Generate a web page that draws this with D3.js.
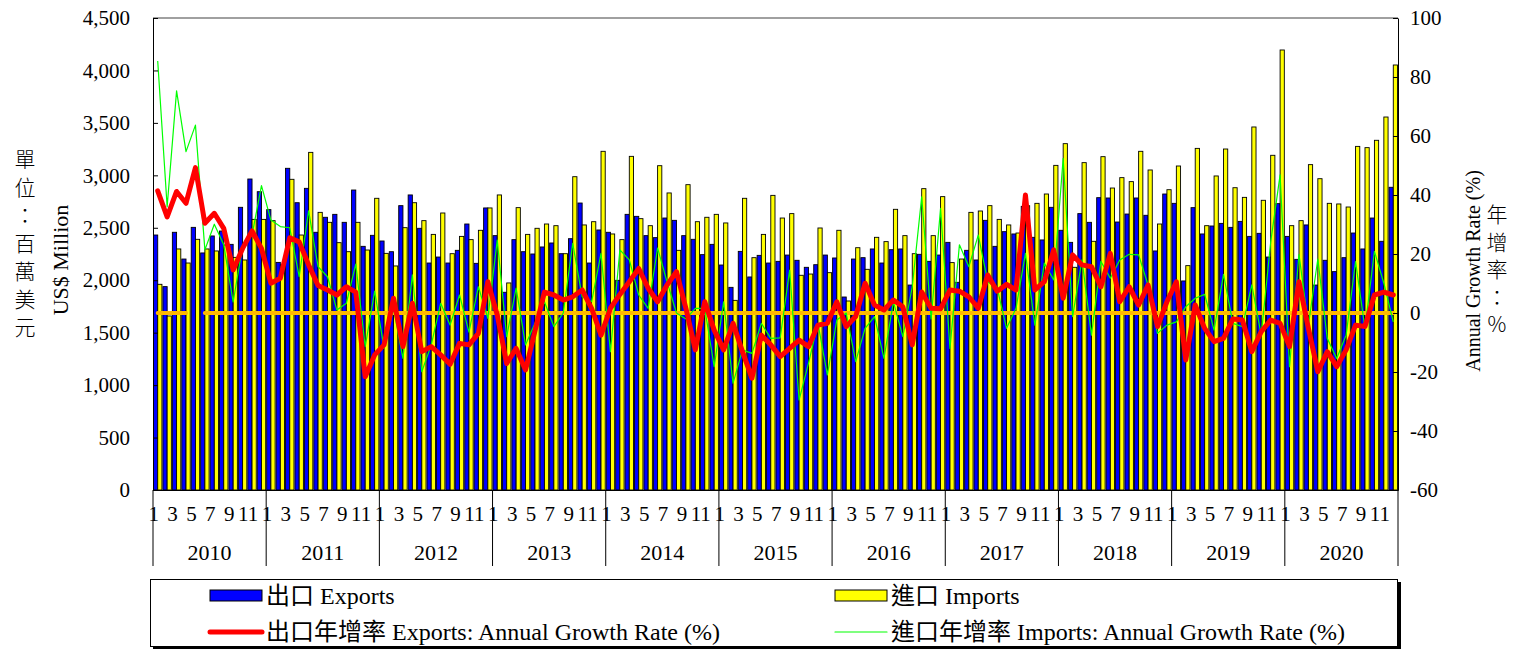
<!DOCTYPE html>
<html>
<head>
<meta charset="utf-8">
<script src="https://cdn.jsdelivr.net/npm/d3@7"></script>
<style>
  body { margin: 0; background: #fff; }
  svg { display: block; font-family: "Liberation Serif", "Times New Roman", "Noto Sans CJK TC", serif; }
</style>
</head>
<body>
<svg id="chart" width="1516" height="651"></svg>
<script>
// Chart data (US$ million, monthly 2010-2020)
const years = [2010, 2011, 2012, 2013, 2014, 2015, 2016, 2017, 2018, 2019, 2020];
const monthTicks = [1, 3, 5, 7, 9, 11];
const leftTicks = [0, 500, 1000, 1500, 2000, 2500, 3000, 3500, 4000, 4500];
const rightTicks = [-60, -40, -20, 0, 20, 40, 60, 80, 100];

const exportsVal = [
  2431, 1939, 2457, 2202, 2504, 2260, 2422, 2469, 2342, 2695, 2965, 2844,
  2673, 2170, 3067, 2739, 2876, 2457, 2600, 2628, 2552, 2860, 2323, 2428,
  2374, 2272, 2711, 2813, 2495, 2164, 2221, 2164, 2285, 2536, 2161, 2689,
  2425, 1885, 2387, 2272, 2250, 2317, 2355, 2253, 2396, 2736, 2164, 2479,
  2457, 1999, 2628, 2609, 2425, 2406, 2593, 2571, 2425, 2390, 2244, 2342,
  2145, 1932, 2275, 2031, 2237, 2164, 2180, 2240, 2190, 2123, 2148, 2240,
  2212, 1840, 2202, 2215, 2298, 2164, 2291, 2298, 1954, 2247, 2180, 2240,
  2361, 1980, 2285, 2193, 2571, 2323, 2463, 2441, 2704, 2409, 2384, 2695,
  2476, 2361, 2635, 2552, 2787, 2784, 2555, 2631, 2784, 2619, 2279, 2822,
  2733, 1993, 2692, 2441, 2517, 2542, 2504, 2561, 2418, 2447, 2221, 2730,
  2418, 2199, 2527, 1954, 2190, 2082, 2215, 2450, 2298, 2593, 2371, 2886
];
const importsVal = [
  1961, 1659, 2298, 2164, 2390, 2298, 2279, 2336, 2218, 2193, 2580, 2580,
  2568, 2145, 2962, 2431, 3219, 2647, 2552, 2358, 2272, 2552, 2288, 2781,
  2256, 2136, 2501, 2739, 2568, 2437, 2641, 2253, 2418, 2387, 2476, 2689,
  2813, 1974, 2692, 2437, 2495, 2536, 2520, 2253, 2987, 2527, 2558, 3229,
  2441, 2387, 3181, 2587, 2520, 3092, 2832, 2285, 2911, 2558, 2600, 2628,
  2546, 1808, 2781, 2215, 2437, 2809, 2593, 2635, 2047, 2059, 2498, 2072,
  2476, 1802, 2310, 2104, 2409, 2368, 2676, 2425, 2253, 2873, 2425, 2797,
  2168, 2202, 2647, 2660, 2711, 2580, 2527, 2450, 2710, 2733, 2822, 3095,
  3302, 2123, 3121, 2371, 3178, 2879, 2978, 2940, 3229, 3051, 2536, 2863,
  3089, 2139, 3257, 2520, 2994, 3251, 2882, 2790, 3461, 2762, 3191, 4195,
  2520, 2568, 3102, 2968, 2733, 2727, 2698, 3276, 3264, 3334, 3556, 4052
];
// Annual growth rates (%)
const exportsGrowth = [
  41.4, 32.6, 41.2, 37.2, 49.3, 30.4, 33.8, 28.7, 14.6, 21.9, 27.8, 21.9,
  10.1, 11.8, 25.5, 24.1, 16.3, 9.3, 7.8, 6.1, 8.9, 7.1, -21.6, -14.2,
  -10.8, 5.0, -11.4, 3.3, -13.1, -11.4, -14.2, -17.4, -10.3, -10.8, -6.9, 10.6,
  -0.7, -17.1, -12.0, -19.3, -6.1, 7.1, 6.1, 4.4, 5.5, 7.8, 1.6, -7.5,
  1.6, 6.3, 10.6, 15.1, 8.4, 3.8, 9.5, 14.0, 1.6, -12.5, 3.8, -5.8,
  -12.5, -3.5, -13.1, -22.1, -7.5, -10.8, -14.8, -12.0, -9.2, -11.4, -4.1, -3.5,
  3.8, -4.6, -1.2, 10.1, 2.7, 1.0, 4.4, 2.1, -10.8, 7.1, 1.6, 1.4,
  7.8, 7.4, 5.5, 1.6, 12.9, 7.4, 9.7, 7.8, 40.0, 7.8, 10.6, 21.4,
  5.0, 19.7, 16.3, 15.7, 8.9, 20.2, 3.8, 8.9, 2.7, 9.5, -4.6, 3.8,
  10.6, -15.9, 2.7, -5.2, -9.7, -8.6, -2.0, -2.4, -13.1, -6.3, -2.4, -3.5,
  -11.4, 10.6, -5.2, -19.9, -13.1, -18.2, -12.5, -4.1, -4.6, 6.1, 7.1, 6.1
];
const importsGrowth = [
  85.4, 36.0, 75.3, 54.7, 63.7, 21.4, 30.1, 23.1, 3.8, 22.6, 26.4, 43.2,
  31.5, 29.3, 28.9, 12.3, 34.6, 15.7, 12.3, 1.0, 3.3, 16.6, -11.4, 7.4,
  -12.0, 1.6, -15.4, 12.9, -19.9, -10.8, 3.3, -4.1, 6.1, -6.5, 8.9, -1.8,
  24.7, -8.0, 8.4, -10.8, -3.5, 3.8, -4.6, 0.0, 23.6, 5.5, 3.8, 20.2,
  -13.1, 21.4, 18.0, 6.1, 1.6, 22.0, 10.6, 0.0, -2.0, 1.6, 1.6, -18.2,
  3.8, -23.8, -12.5, -13.7, -3.5, -8.6, -8.4, 14.5, -29.5, -17.0, -3.5, -21.0,
  -2.4, 0.0, -16.5, -5.2, -1.2, -15.4, 3.8, -8.0, 8.9, 39.4, -2.0, 35.5,
  -12.0, 23.1, 15.7, 26.4, 10.6, 8.4, -5.2, 1.6, 20.2, -4.1, 16.9, 11.2,
  52.4, -1.2, 18.0, -7.5, 17.5, 11.8, 18.0, 19.9, 19.7, 9.5, -6.9, -4.1,
  -3.0, 2.1, 5.0, 6.3, -5.8, 13.1, -3.5, -4.6, 9.5, -7.5, 24.0, 46.8,
  -18.2, 19.9, -4.1, 18.3, -8.6, -15.4, -7.5, 17.4, -5.2, 20.9, 10.1, -3.0
];

// Month categories and zero reference line (the series has a gap at 2010-5)
const months = years.flatMap(y => d3.range(1, 13).map(m => `${y}-${m}`));
const zeroLine = months.map((m, i) => i === 4 ? null : 0);

const svg = d3.select("#chart");
const plotLeft = 153, plotRight = 1398, plotTop = 18, plotBottom = 490;

const x = d3.scaleBand().domain(months).range([plotLeft, plotRight]).padding(0);
const bw = x.bandwidth();
const yL = d3.scaleLinear().domain([0, 4500]).range([plotBottom, plotTop]);
const yR = d3.scaleLinear().domain([-60, 100]).range([plotBottom, plotTop]);
const xYear = d3.scaleBand().domain(years).range([plotLeft, plotRight]).padding(0);

// Bars
const bars = svg.append("g").attr("stroke", "#000").attr("stroke-width", 0.9);
bars.selectAll("rect.exp").data(exportsVal).join("rect")
  .attr("class", "exp")
  .attr("x", (d, i) => x(months[i]) + 0.5)
  .attr("width", bw / 2 - 0.5)
  .attr("y", d => yL(d))
  .attr("height", d => plotBottom - yL(d))
  .attr("fill", "#0000ff");
bars.selectAll("rect.imp").data(importsVal).join("rect")
  .attr("class", "imp")
  .attr("x", (d, i) => x(months[i]) + bw / 2)
  .attr("width", bw / 2 - 0.5)
  .attr("y", d => yL(d))
  .attr("height", d => plotBottom - yL(d))
  .attr("fill", "#ffff00");

// Top border of the plot area
svg.append("line").attr("x1", plotLeft).attr("x2", plotRight).attr("y1", plotTop).attr("y2", plotTop)
  .attr("stroke", "#808080").attr("stroke-width", 1.5);

// Lines
const cx = i => x(months[i]) + bw / 2;
const line = d3.line().defined(d => d !== null).x((d, i) => cx(i)).y(d => yR(d));

svg.append("path").datum(zeroLine)
  .attr("fill", "none").attr("stroke", "#ffb800").attr("stroke-width", 4)
  .attr("stroke-linecap", "round").attr("d", line);
svg.append("path").datum(importsGrowth)
  .attr("fill", "none").attr("stroke", "#00ff00").attr("stroke-width", 1.2)
  .attr("stroke-linejoin", "round").attr("d", line);
svg.append("path").datum(exportsGrowth)
  .attr("fill", "none").attr("stroke", "#ff0000").attr("stroke-width", 5)
  .attr("stroke-linejoin", "round").attr("stroke-linecap", "round").attr("d", line);

// Axes
function styleAxis(g, size) {
  g.attr("font-family", null).attr("font-size", size);
  g.selectAll("text").attr("fill", "#000");
  g.selectAll("line, path").attr("stroke", "#000");
}

svg.append("g").attr("transform", `translate(${plotLeft},0)`)
  .call(d3.axisLeft(yL).tickValues(leftTicks).tickFormat(d3.format(","))
    .tickSizeInner(-5).tickSizeOuter(0).tickPadding(23))
  .call(g => styleAxis(g, 21));

svg.append("g").attr("transform", `translate(${plotRight},0)`)
  .call(d3.axisRight(yR).tickValues(rightTicks).tickFormat(d => String(d))
    .tickSizeInner(-5).tickSizeOuter(0).tickPadding(12))
  .call(g => styleAxis(g, 21));

svg.append("g").attr("transform", `translate(0,${plotBottom})`)
  .call(d3.axisBottom(x).tickValues(months.filter(m => monthTicks.includes(+m.split("-")[1])))
    .tickFormat(m => m.split("-")[1]).tickSize(0).tickPadding(16))
  .call(g => styleAxis(g, 21))
  .call(g => g.selectAll(".tick text").attr("dx", -4));

svg.append("g").attr("transform", `translate(0,${plotBottom})`)
  .call(d3.axisBottom(xYear).tickSize(0).tickPadding(54))
  .call(g => styleAxis(g, 22))
  .call(g => g.select(".domain").remove());

// Year separators below the axis
svg.append("g").selectAll("line")
  .data(years.map(y => xYear(y)).concat([plotRight]))
  .join("line")
  .attr("x1", d => d).attr("x2", d => d)
  .attr("y1", plotBottom).attr("y2", 566)
  .attr("stroke", "#000").attr("stroke-width", 1);

// Axis titles
svg.append("text")
  .attr("transform", "translate(68,260) rotate(-90)")
  .attr("text-anchor", "middle").attr("font-size", 22)
  .text("US$ Million");

svg.append("text")
  .attr("transform", "translate(1480,271) rotate(-90)")
  .attr("text-anchor", "middle").attr("font-size", 20)
  .text("Annual Growth Rate (%)");

function verticalText(str, x0, y0, step) {
  const t = svg.append("text")
    .attr("text-anchor", "middle").attr("font-size", 21)
    .attr("font-family", "'Noto Sans CJK TC', sans-serif")
    .attr("font-weight", 300)
    .attr("dominant-baseline", "central");
  Array.from(str).forEach((ch, i) => {
    t.append("tspan").attr("x", x0).attr("y", y0 + i * step).text(ch);
  });
}
verticalText("單位：百萬美元", 25, 158, 28);
verticalText("年增率：%", 1497, 213, 27.5);

// Legend box with shadow
const legend = svg.append("g");
legend.append("rect").attr("x", 153).attr("y", 582).attr("width", 1248).attr("height", 67).attr("fill", "#000");
legend.append("rect").attr("x", 150.5).attr("y", 579.5).attr("width", 1247).attr("height", 67)
  .attr("fill", "#fff").attr("stroke", "#000").attr("stroke-width", 1);

const legendItems = [
  { label: "出口 Exports", type: "rect", color: "#0000ff", x: 210, y: 596 },
  { label: "進口 Imports", type: "rect", color: "#ffff00", x: 835, y: 596 },
  { label: "出口年增率 Exports: Annual Growth Rate (%)", type: "line", color: "#ff0000", width: 5, x: 210, y: 632 },
  { label: "進口年增率 Imports: Annual Growth Rate (%)", type: "line", color: "#00ff00", width: 1.2, x: 835, y: 632 }
];
legendItems.forEach(d => {
  if (d.type === "rect") {
    legend.append("rect").attr("x", d.x).attr("y", d.y - 6).attr("width", 52).attr("height", 11)
      .attr("fill", d.color).attr("stroke", "#000").attr("stroke-width", 1);
  } else {
    legend.append("line").attr("x1", d.x).attr("x2", d.x + 52).attr("y1", d.y).attr("y2", d.y)
      .attr("stroke", d.color).attr("stroke-width", d.width).attr("stroke-linecap", "round");
  }
  legend.append("text").attr("x", d.x + 56).attr("y", d.y + 8)
    .attr("font-size", 24).text(d.label);
});
</script>
</body>
</html>
